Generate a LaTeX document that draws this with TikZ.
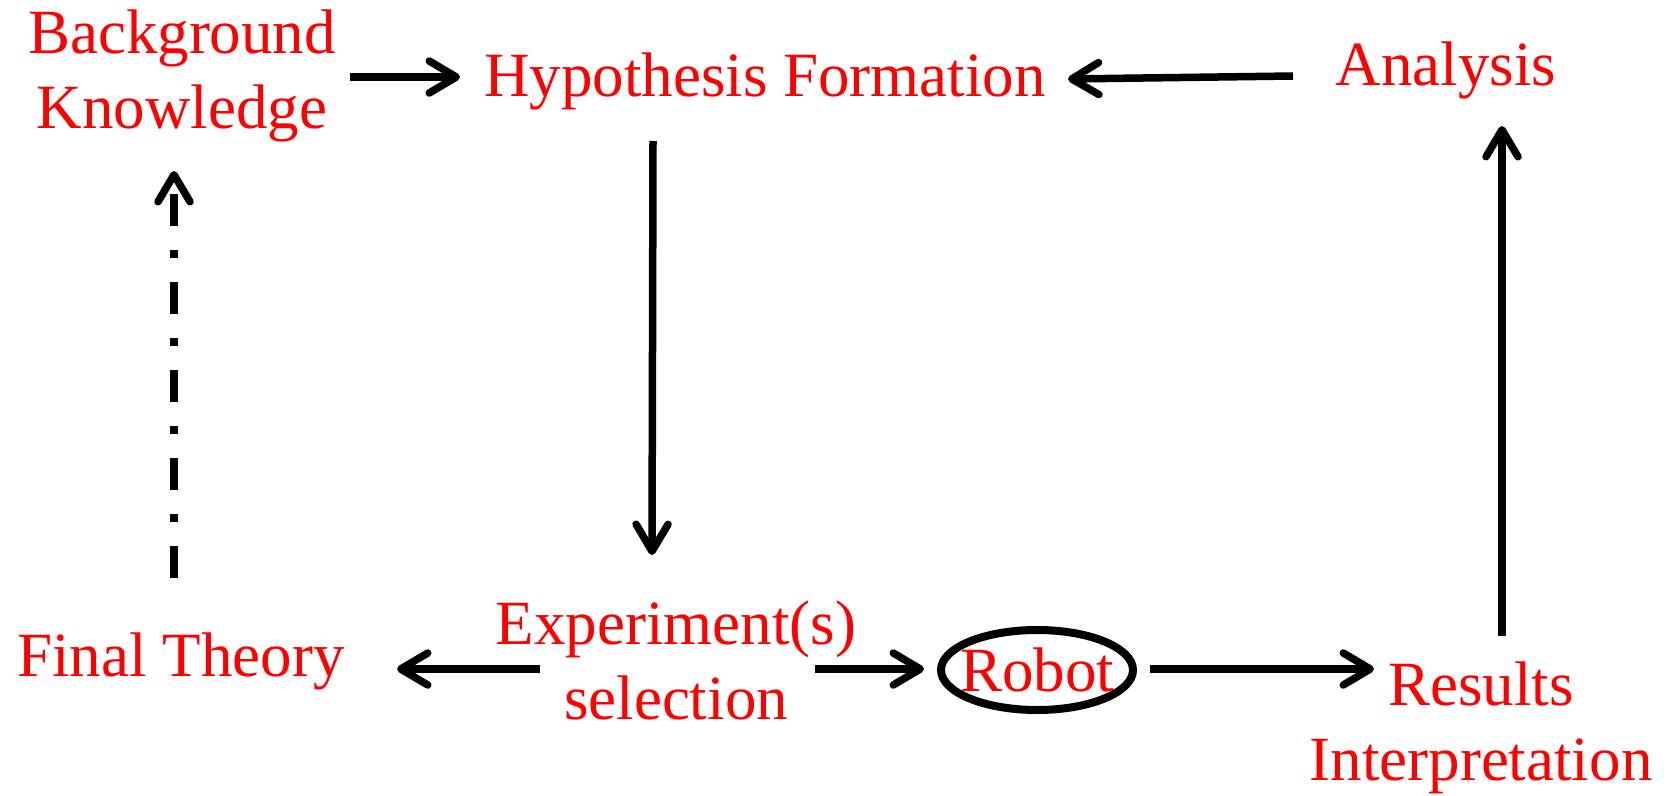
\documentclass[tikz,border=0pt]{standalone}
\usepackage{fontspec}
\setmainfont{Liberation Serif}
\usetikzlibrary{arrows.meta,shapes.geometric}
\begin{document}
\begin{tikzpicture}[x=1pt,y=-1pt,
  lbl/.style={text=red, font=\fontsize{63}{75}\selectfont, inner sep=0pt, align=center},
  arr/.style={line width=7.5pt, -{Straight Barb[length=27pt,width=32pt,round]}},
  dashdot/.style={arr, dash pattern=on 32pt off 24pt on 8pt off 24pt}]
\useasboundingbox[fill=white] (0,0) rectangle (1670,795);
% labels (anchor=base is the baseline of the last line)
\node[lbl, anchor=base] (bk) at (182,128) {Background\\Knowledge};
\node[lbl, anchor=base] (hf) at (765,96) {Hypothesis Formation};
\node[lbl, anchor=base] (an) at (1446,85) {Analysis};
\node[lbl, anchor=base] (ft) at (181,676) {Final Theory};
\node[lbl, anchor=base] (es) at (676,719) {Experiment(s)\\selection};
\node[lbl, anchor=center, shape=ellipse, draw=black, line width=8pt,
      inner xsep=-12pt, inner ysep=0pt,
      minimum width=192pt, minimum height=80pt] (rb) at (1037,670) {Robot};
\node[lbl, anchor=base] (ri) at (1481,780) {Results\\Interpretation};
% connector end points
\coordinate (bkE) at (350,77);
\coordinate (hfW) at (460,77);
\coordinate (anW) at (1293,76);
\coordinate (hfE) at (1068,79);
\coordinate (hfS) at (653,141);
\coordinate (esN) at (652,555);
\coordinate (esW) at (540,669);
\coordinate (ftE) at (397,669);
\coordinate (esE) at (815,669);
\coordinate (rbW) at (924,669);
\coordinate (rbE) at (1150,669);
\coordinate (riW) at (1374,669);
\coordinate (riN) at (1502,636);
\coordinate (anS) at (1502,126);
\coordinate (ftN) at (174,578);
\coordinate (bkS) at (174,171);
% connectors
\draw[arr] (bkE) -- (hfW);
\draw[arr] (anW) -- (hfE);
\draw[arr] (hfS) -- (esN);
\draw[arr] (esW) -- (ftE);
\draw[arr] (esE) -- (rbW);
\draw[arr] (rbE) -- (riW);
\draw[arr] (riN) -- (anS);
\draw[dashdot] (ftN) -- (bkS);
\end{tikzpicture}
\end{document}
